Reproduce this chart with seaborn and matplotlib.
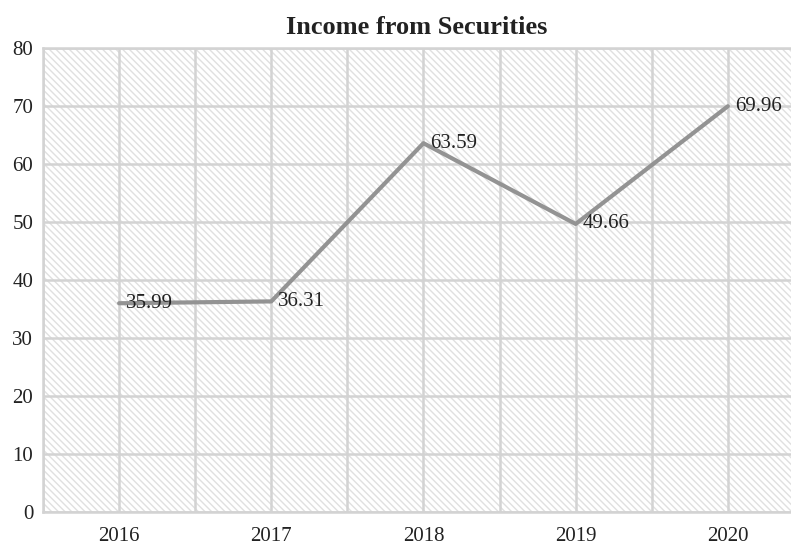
import matplotlib
matplotlib.use("Agg")
import matplotlib.pyplot as plt
import seaborn as sns
import pandas as pd
from matplotlib.ticker import MultipleLocator

years = [2016, 2017, 2018, 2019, 2020]
income = [35.99, 36.31, 63.59, 49.66, 69.96]
y_ticks = [0, 10, 20, 30, 40, 50, 60, 70, 80]

sns.set_theme(style="white")
plt.rcParams["font.family"] = ["Liberation Serif", "DejaVu Serif"]
plt.rcParams["hatch.color"] = "#e0e0e0"
plt.rcParams["hatch.linewidth"] = 1.0

df = pd.DataFrame({"year": years, "income": income})

fig = plt.figure(figsize=(7.91, 5.45), dpi=100)
ax = fig.add_axes([43 / 791, 1 - 512 / 545, 1 - 43 / 791, (512 - 48) / 545])

# hatched background
ax.patch.set_facecolor("white")
ax.patch.set_hatch("\\" * 5)
ax.patch.set_edgecolor("#e0e0e0")

sns.lineplot(data=df, x="year", y="income", ax=ax, color="#939393", linewidth=3, zorder=3)

for x, y in zip(years, income):
    ax.annotate(f"{y:.2f}", (x, y), xytext=(5, 0), textcoords="offset points",
                ha="left", va="center", fontsize=15, color="#222222", zorder=4)

ax.set_xlim(2015.5, 2020.415)
ax.set_ylim(0, 80)
ax.set_xticks(years)
ax.set_xticklabels([str(y) for y in years])
ax.xaxis.set_minor_locator(MultipleLocator(0.5))
ax.set_yticks(y_ticks)
ax.grid(True, which="both", axis="x", color="#d3d3d3", linewidth=1.8, zorder=1)
ax.grid(True, which="major", axis="y", color="#d3d3d3", linewidth=1.8, zorder=1)
ax.set_axisbelow(True)
ax.tick_params(axis="both", which="both", length=0, labelsize=15, colors="#222222")
ax.tick_params(axis="x", pad=11)
ax.tick_params(axis="y", pad=7)
ax.set_xlabel("")
ax.set_ylabel("")
for side in ["left", "bottom", "top"]:
    ax.spines[side].set_color("#d3d3d3")
    ax.spines[side].set_linewidth(1.8)
ax.spines["right"].set_visible(False)

ax.set_title("Income from Securities", fontsize=19, fontweight="bold", color="#222222", pad=10)

fig.savefig("out.png", dpi=100)
